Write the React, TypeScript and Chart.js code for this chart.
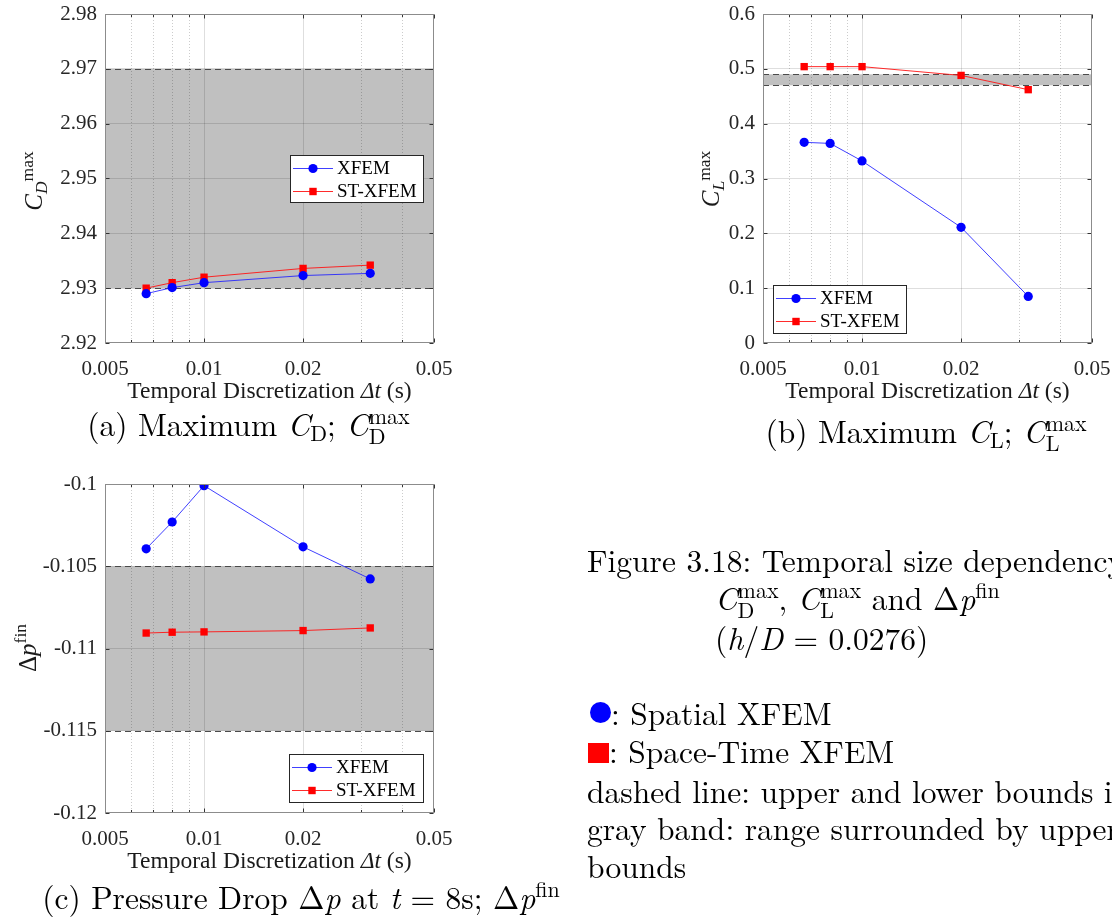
import React, { useEffect, useRef } from 'react';
import { Chart, registerables } from 'chart.js';

Chart.register(...registerables);

const SERIF = '"Liberation Serif", "Times New Roman", Times, serif';
const LM = '"Latin Modern Roman", "Liberation Serif", serif';

// ---------------- data ----------------
const seriesNames = ['XFEM', 'ST-XFEM'];
const timeSteps = [0.00667, 0.008, 0.01, 0.02, 0.032];
const cdMaxXFEM = [2.929, 2.9301, 2.931, 2.9323, 2.9327];
const cdMaxST = [2.93, 2.931, 2.932, 2.9336, 2.9342];
const clMaxXFEM = [0.366, 0.364, 0.332, 0.211, 0.085];
const clMaxST = [0.504, 0.504, 0.504, 0.488, 0.462];
const dpFinXFEM = [-0.10394, -0.10231, -0.1001, -0.10382, -0.10577];
const dpFinST = [-0.10906, -0.10901, -0.10899, -0.10891, -0.10875];
const cdBounds = [2.93, 2.97];
const clBounds = [0.47, 0.49];
const dpBounds = [-0.115, -0.105];
const xTickValues = [0.005, 0.006, 0.007, 0.008, 0.009, 0.01, 0.02, 0.03, 0.04, 0.05];
const xTickLabels = ['0.005', '', '', '', '', '0.01', '0.02', '', '', '0.05'];
const cdTickValues = [2.92, 2.93, 2.94, 2.95, 2.96, 2.97, 2.98];
const cdTickLabels = ['2.92', '2.93', '2.94', '2.95', '2.96', '2.97', '2.98'];
const clTickValues = [0, 0.1, 0.2, 0.3, 0.4, 0.5, 0.6];
const clTickLabels = ['0', '0.1', '0.2', '0.3', '0.4', '0.5', '0.6'];
const dpTickValues = [-0.12, -0.115, -0.11, -0.105, -0.1];
const dpTickLabels = ['-0.12', '-0.115', '-0.11', '-0.105', '-0.1'];

// ---------------- plugin ----------------
const decorPlugin: any = {
  id: 'decor',
  beforeDraw(chart: any, _a: any, opts: any) {
    const { ctx, chartArea: ca, scales } = chart;
    const y = scales.y;
    const yHi = y.getPixelForValue(opts.band[1]);
    const yLo = y.getPixelForValue(opts.band[0]);
    ctx.save();
    ctx.fillStyle = '#c0c0c0';
    ctx.fillRect(ca.left, yHi, ca.right - ca.left, yLo - yHi);
    ctx.restore();
  },
  beforeDatasetsDraw(chart: any, _a: any, opts: any) {
    const { ctx, chartArea: ca, scales } = chart;
    const x = scales.x;
    const y = scales.y;
    ctx.save();
    ctx.strokeStyle = 'rgba(0,0,0,0.2)';
    ctx.lineWidth = 1;
    ctx.setLineDash([1, 2]);
    xTickValues.forEach((v, i) => {
      if (xTickLabels[i] !== '') return;
      const px = Math.round(x.getPixelForValue(v)) + 0.5;
      ctx.beginPath();
      ctx.moveTo(px, ca.top);
      ctx.lineTo(px, ca.bottom);
      ctx.stroke();
    });
    ctx.strokeStyle = '#4a4a4a';
    ctx.setLineDash([6, 4]);
    opts.band.forEach((b: number) => {
      const py = Math.round(y.getPixelForValue(b)) + 0.5;
      ctx.beginPath();
      ctx.moveTo(ca.left, py);
      ctx.lineTo(ca.right, py);
      ctx.stroke();
    });
    ctx.restore();
  },
  afterDatasetsDraw(chart: any, _a: any, opts: any) {
    const { ctx, chartArea: ca, scales } = chart;
    const x = scales.x;
    const y = scales.y;
    const L = Math.round(ca.left) + 0.5;
    const R = Math.round(ca.right) - 0.5;
    const T = Math.round(ca.top) + 0.5;
    const B = Math.round(ca.bottom) - 0.5;
    ctx.save();
    ctx.setLineDash([]);
    ctx.strokeStyle = '#333';
    ctx.lineWidth = 1;
    y.ticks.forEach((t: any) => {
      const py = Math.round(y.getPixelForValue(t.value)) + 0.5;
      ctx.beginPath();
      ctx.moveTo(L, py); ctx.lineTo(L + 4, py);
      ctx.moveTo(R, py); ctx.lineTo(R - 4, py);
      ctx.stroke();
    });
    xTickValues.forEach((v, i) => {
      const px = Math.round(x.getPixelForValue(v)) + 0.5;
      const len = xTickLabels[i] ? 4 : 2.5;
      ctx.beginPath();
      ctx.moveTo(px, B); ctx.lineTo(px, B - len);
      ctx.moveTo(px, T); ctx.lineTo(px, T + len);
      ctx.stroke();
    });
    ctx.strokeStyle = '#8c8c8c';
    ctx.strokeRect(L, T, R - L, B - T);
    const lg = opts.legend;
    ctx.fillStyle = '#ffffff';
    ctx.fillRect(lg.x, lg.y, lg.w, lg.h);
    ctx.strokeStyle = '#262626';
    ctx.strokeRect(lg.x + 0.5, lg.y + 0.5, lg.w, lg.h);
    ctx.font = `19px ${SERIF}`;
    ctx.textBaseline = 'middle';
    chart.data.datasets.forEach((ds: any, i: number) => {
      const cy = Math.round(lg.y + 12.5 + i * 23) + 0.5;
      ctx.strokeStyle = ds.borderColor;
      ctx.lineWidth = 1;
      ctx.beginPath();
      ctx.moveTo(lg.x + 3, cy);
      ctx.lineTo(lg.x + 43, cy);
      ctx.stroke();
      ctx.fillStyle = ds.pointBackgroundColor;
      const mx = lg.x + 23;
      if (ds.pointStyle === 'circle') {
        ctx.beginPath();
        ctx.arc(mx, cy, 4.6, 0, Math.PI * 2);
        ctx.fill();
      } else {
        ctx.fillRect(mx - 3.7, cy - 3.7, 7.4, 7.4);
      }
      ctx.fillStyle = '#000';
      ctx.fillText(ds.label, lg.x + 47, cy + 1);
    });
    ctx.restore();
  },
};

type PanelProps = {
  left: number; top: number; width: number; height: number;
  yWidth: number; xHeight: number; padTop: number; padRight: number;
  xs: number[]; s1: number[]; s2: number[];
  yMin: number; yMax: number; yTicks: number[]; yLabels: string[];
  band: number[]; legend: { x: number; y: number; w: number; h: number };
};

function Panel(p: PanelProps) {
  const ref = useRef<HTMLCanvasElement>(null);
  useEffect(() => {
    const font = { family: SERIF, size: 21 };
    const chart = new Chart(ref.current as HTMLCanvasElement, {
      type: 'line',
      data: {
        datasets: [
          {
            label: seriesNames[0],
            data: p.xs.map((x, i) => ({ x, y: p.s1[i] })),
            borderColor: 'rgba(30,30,255,0.85)',
            borderWidth: 1,
            pointStyle: 'circle',
            pointRadius: 4.6,
            pointHoverRadius: 4.6,
            pointBackgroundColor: '#0000ff',
            pointBorderWidth: 0,
            tension: 0,
          },
          {
            label: seriesNames[1],
            data: p.xs.map((x, i) => ({ x, y: p.s2[i] })),
            borderColor: 'rgba(255,20,20,0.9)',
            borderWidth: 1,
            pointStyle: 'rect',
            pointRadius: 5.2,
            pointHoverRadius: 5.2,
            pointBackgroundColor: '#ff0000',
            pointBorderWidth: 0,
            tension: 0,
          },
        ],
      } as any,
      options: {
        animation: false,
        responsive: false,
        devicePixelRatio: 1,
        events: [],
        layout: { padding: { top: p.padTop, right: p.padRight, left: 0, bottom: 0 } },
        plugins: {
          legend: { display: false },
          tooltip: { enabled: false },
          decor: { band: p.band, legend: p.legend },
        } as any,
        scales: {
          x: {
            type: 'logarithmic',
            min: 0.005,
            max: 0.05,
            afterBuildTicks: (s: any) => { s.ticks = xTickValues.map((v) => ({ value: v })); },
            afterFit: (s: any) => { s.height = p.xHeight; s.paddingLeft = 0; s.paddingRight = 0; },
            ticks: {
              autoSkip: false, maxRotation: 0, minRotation: 0, padding: 14,
              font, color: '#262626',
              callback: (_v: any, i: number) => xTickLabels[i],
            },
            grid: {
              drawTicks: false,
              lineWidth: 1,
              color: (c: any) => {
                const i = c.index;
                if (i === undefined || i === 0 || i === xTickValues.length - 1) return 'rgba(0,0,0,0)';
                return xTickLabels[i] ? 'rgba(0,0,0,0.13)' : 'rgba(0,0,0,0)';
              },
            },
            border: { display: false },
          },
          y: {
            type: 'linear',
            min: p.yMin,
            max: p.yMax,
            afterBuildTicks: (s: any) => { s.ticks = p.yTicks.map((v) => ({ value: v })); },
            afterFit: (s: any) => { s.width = p.yWidth; s.paddingTop = 0; s.paddingBottom = 0; },
            ticks: {
              padding: 8, font, color: '#262626',
              callback: (_v: any, i: number) => p.yLabels[i],
            },
            grid: {
              drawTicks: false,
              lineWidth: 1,
              color: (c: any) => {
                const i = c.index;
                if (i === undefined || i === 0 || i === p.yTicks.length - 1) return 'rgba(0,0,0,0)';
                return 'rgba(0,0,0,0.13)';
              },
            },
            border: { display: false },
          },
        } as any,
      },
      plugins: [decorPlugin],
    });
    return () => chart.destroy();
  }, []);
  return (
    <canvas
      ref={ref}
      width={p.width}
      height={p.height}
      style={{ position: 'absolute', left: p.left, top: p.top, width: p.width, height: p.height, display: 'block' }}
    />
  );
}

// ---------------- text (SVG, baseline-positioned) ----------------
const CAP = 31.5;
const SM = 22; // script size for captions
const wD = 16.8; // width of subscript D in LM at SM
const wL = 13.8; // width of subscript L in LM at SM

const XTitle = ({ cx, base }: { cx: number; base: number }) => (
  <text x={cx} y={base} textAnchor="middle" fontFamily={SERIF} fontSize={23.5} fill="#1a1a1a">
    Temporal Discretization <tspan fontStyle="italic">Δt</tspan> (s)
  </text>
);

export default function App() {
  return (
    <div style={{ position: 'absolute', left: 0, top: 0, width: 1112, height: 922, overflow: 'hidden', background: '#fff' }}>
      <Panel left={0} top={0} width={460} height={380} yWidth={105} xHeight={37} padTop={14} padRight={26}
        xs={timeSteps} s1={cdMaxXFEM} s2={cdMaxST} yMin={2.92} yMax={2.98}
        yTicks={cdTickValues} yLabels={cdTickLabels} band={cdBounds}
        legend={{ x: 290, y: 155, w: 133, h: 47 }} />
      <Panel left={660} top={0} width={452} height={380} yWidth={103} xHeight={37} padTop={14} padRight={20}
        xs={timeSteps} s1={clMaxXFEM} s2={clMaxST} yMin={0} yMax={0.6}
        yTicks={clTickValues} yLabels={clTickLabels} band={clBounds}
        legend={{ x: 113, y: 285, w: 133, h: 48 }} />
      <Panel left={0} top={470} width={460} height={380} yWidth={105} xHeight={37} padTop={14} padRight={26}
        xs={timeSteps} s1={dpFinXFEM} s2={dpFinST} yMin={-0.12} yMax={-0.1}
        yTicks={dpTickValues} yLabels={dpTickLabels} band={dpBounds}
        legend={{ x: 289, y: 284, w: 134, h: 48 }} />

      <svg width={1112} height={922} style={{ position: 'absolute', left: 0, top: 0, pointerEvents: 'none' }}>
        {/* axis titles */}
        <XTitle cx={269.5} base={397.5} />
        <XTitle cx={927.5} base={397.5} />
        <XTitle cx={269.5} base={867.5} />
        <text transform="translate(42,181) rotate(-90)" textAnchor="middle" fontFamily={SERIF} fontSize={25} fill="#1a1a1a">
          <tspan fontStyle="italic">C</tspan>
          <tspan fontSize={17.5} fontStyle="italic" dy={5}>D</tspan>
          <tspan fontSize={17.5} dy={-14}>max</tspan>
        </text>
        <text transform="translate(719,179) rotate(-90)" textAnchor="middle" fontFamily={SERIF} fontSize={25} fill="#1a1a1a">
          <tspan fontStyle="italic">C</tspan>
          <tspan fontSize={17.5} fontStyle="italic" dy={5}>L</tspan>
          <tspan fontSize={17.5} dy={-14}>max</tspan>
        </text>
        <text transform="translate(36,648) rotate(-90)" textAnchor="middle" fontFamily={SERIF} fontSize={25} fill="#1a1a1a">
          Δ<tspan fontStyle="italic">p</tspan>
          <tspan fontSize={17.5} dy={-10}>fin</tspan>
        </text>

        {/* sub-captions */}
        <text x={248.5} y={436} textAnchor="middle" fontFamily={LM} fontSize={CAP} fill="#000">
          (a) Maximum <tspan fontStyle="italic">C</tspan><tspan fontSize={SM} dy={5}>D</tspan><tspan dy={-5}>; </tspan>
          <tspan fontStyle="italic">C</tspan><tspan fontSize={SM} dy={8}>D</tspan><tspan fontSize={SM} dx={-wD} dy={-20}>max</tspan>
        </text>
        <text x={926} y={443} textAnchor="middle" fontFamily={LM} fontSize={CAP} fill="#000">
          (b) Maximum <tspan fontStyle="italic">C</tspan><tspan fontSize={SM} dy={5}>L</tspan><tspan dy={-5}>; </tspan>
          <tspan fontStyle="italic">C</tspan><tspan fontSize={SM} dy={8}>L</tspan><tspan fontSize={SM} dx={-wL} dy={-20}>max</tspan>
        </text>
        <text x={301} y={909} textAnchor="middle" fontFamily={LM} fontSize={CAP} fill="#000">
          (c) Pressure Drop Δ<tspan fontStyle="italic">p</tspan> at <tspan fontStyle="italic">t</tspan> = 8s; Δ<tspan fontStyle="italic">p</tspan><tspan fontSize={SM} dy={-12}>fin</tspan>
        </text>

        {/* figure caption */}
        <text x={587} y={572} fontFamily={LM} fontSize={CAP} fill="#000">Figure 3.18: Temporal size dependency</text>
        <text x={715} y={610} fontFamily={LM} fontSize={CAP} fill="#000">
          <tspan fontStyle="italic">C</tspan><tspan fontSize={SM} dy={8}>D</tspan><tspan fontSize={SM} dx={-wD} dy={-20}>max</tspan><tspan dy={12}>, </tspan>
          <tspan fontStyle="italic">C</tspan><tspan fontSize={SM} dy={8}>L</tspan><tspan fontSize={SM} dx={-wL} dy={-20}>max</tspan><tspan dy={12}> and Δ</tspan>
          <tspan fontStyle="italic">p</tspan><tspan fontSize={SM} dy={-12}>fin</tspan>
        </text>
        <text x={715} y={650} fontFamily={LM} fontSize={CAP} fill="#000">
          (<tspan fontStyle="italic">h</tspan>/<tspan fontStyle="italic">D</tspan> = 0.0276)
        </text>
        <circle cx={600.5} cy={712.5} r={10.5} fill="#0000ff" />
        <text x={611} y={725} fontFamily={LM} fontSize={CAP} fill="#000">: Spatial XFEM</text>
        <rect x={588} y={743} width={21} height={20} fill="#ff0000" />
        <text x={609} y={763} fontFamily={LM} fontSize={CAP} fill="#000">: Space-Time XFEM</text>
        <text x={587} y={803} fontFamily={LM} fontSize={CAP} fill="#000">dashed line: upper and lower bounds in</text>
        <text x={587} y={840} fontFamily={LM} fontSize={CAP} fill="#000">gray band: range surrounded by upper and lower</text>
        <text x={587} y={878} fontFamily={LM} fontSize={CAP} fill="#000">bounds</text>
      </svg>
    </div>
  );
}
